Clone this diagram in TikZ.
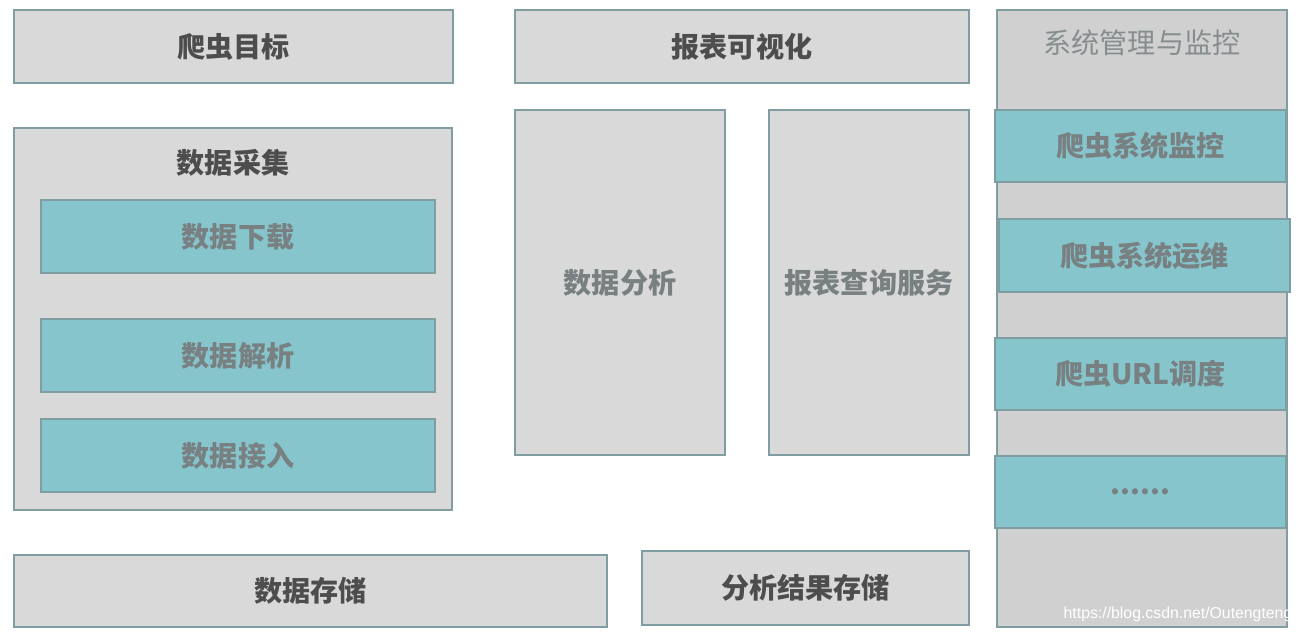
\documentclass[tikz,border=0pt]{standalone}
\usepackage{fontspec}
\setmainfont{Noto Sans CJK SC}
\setsansfont{Liberation Sans}
\usetikzlibrary{positioning}
\definecolor{boxgray}{RGB}{217,217,217}
\definecolor{panelgray}{RGB}{208,208,208}
\definecolor{edgeteal}{RGB}{128,158,162}
\definecolor{fillteal}{RGB}{134,197,204}
\definecolor{darktext}{RGB}{77,77,77}
\definecolor{softtext}{RGB}{120,128,130}

\begin{document}
\begin{tikzpicture}[
    box/.style={
        draw=edgeteal,
        line width=1.4pt,
        fill=boxgray,
        inner sep=0pt,
        align=center,
        font=\fontsize{16}{18}\selectfont\bfseries,
        text=darktext
    },
    tealbox/.style={
        box,
        fill=fillteal,
        text=softtext
    },
    title/.style={
        font=\fontsize{16}{18}\selectfont\bfseries,
        text=darktext
    }
]

\useasboundingbox[fill=white] (0,0) rectangle (26.06,-12.68);

% ============================================================
% Top row
% ============================================================

\node[box, minimum width=8.78cm, minimum height=1.46cm] (target) at (4.67,-0.93)
{爬虫目标};

\node[box, minimum width=9.08cm, minimum height=1.46cm] (report) at (14.84,-0.93)
{报表可视化};


% ============================================================
% System management
% ============================================================

\node[box, fill=panelgray, minimum width=5.80cm, minimum height=12.34cm] (sysmon) at (22.84,-6.37)
{};

\node[title, font=\fontsize{16}{18}\selectfont, text=softtext!90] (systitle) at (22.84,-0.86)
{系统管理与监控};

\node[tealbox, minimum width=5.82cm, minimum height=1.44cm] (crawlmon) at (22.81,-2.92)
{爬虫系统监控};

\node[tealbox, minimum width=5.82cm, minimum height=1.46cm] (crawlops) at (22.89,-5.11)
{爬虫系统运维};

\node[tealbox, minimum width=5.82cm, minimum height=1.44cm] (urlsched) at (22.81,-7.48)
{爬虫URL调度};

\node[tealbox, minimum width=5.82cm, minimum height=1.44cm] (more) at (22.81,-9.84)
{......};


% ============================================================
% Data collection
% ============================================================

\node[box, minimum width=8.76cm, minimum height=7.64cm] (collect) at (4.66,-6.38)
{};

\node[title] (collecttitle) at (4.66,-3.26)
{数据采集};

\node[tealbox, minimum width=7.88cm, minimum height=1.46cm] (download) at (4.76,-4.73)
{数据下载};

\node[tealbox, minimum width=7.88cm, minimum height=1.46cm] (parse) at (4.76,-7.11)
{数据解析};

\node[tealbox, minimum width=7.88cm, minimum height=1.46cm] (ingest) at (4.76,-9.11)
{数据接入};


% ============================================================
% Analysis and query
% ============================================================

\node[box, text=softtext, minimum width=4.20cm, minimum height=6.90cm] (analysis) at (12.40,-5.65)
{数据分析};

\node[box, text=softtext, minimum width=4.00cm, minimum height=6.90cm] (query) at (17.38,-5.65)
{报表查询服务};


% ============================================================
% Storage
% ============================================================

\node[box, minimum width=11.86cm, minimum height=1.44cm] (store) at (6.21,-11.82)
{数据存储};

\node[box, minimum width=6.54cm, minimum height=1.48cm] (resultstore) at (16.11,-11.76)
{分析结果存储};

\node[font=\sffamily\fontsize{9}{10}\selectfont, text=white] (mark) at (23.56,-12.28)
{https://blog.csdn.net/Outengteng};

\end{tikzpicture}
\end{document}
